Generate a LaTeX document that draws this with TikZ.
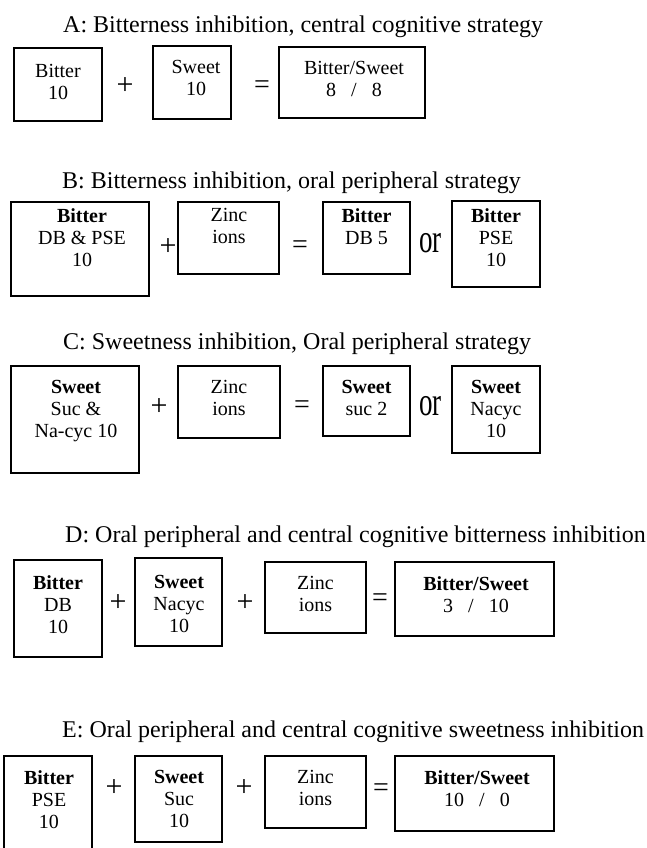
\documentclass[tikz,border=0pt]{standalone}
\usepackage{fontspec}
\setmainfont{Liberation Serif}
\begin{document}
\begin{tikzpicture}[x=1pt,y=-1pt,
  boxst/.style={draw, line width=1.5pt, inner sep=0pt, outer sep=0pt},
  txt/.style={anchor=north, align=center, inner sep=0pt, font=\fontsize{20}{22}\selectfont},
  ttl/.style={anchor=base west, inner sep=0pt, font=\fontsize{24}{28}\selectfont},
  plusst/.style={inner sep=0pt, font=\fontsize{30}{30}\selectfont},
  eqst/.style={inner sep=0pt, font=\fontsize{28}{28}\selectfont},
  orst/.style={anchor=base, inner sep=0pt}]
\useasboundingbox (0,0) rectangle (646,848);
\clip (0,0) rectangle (646,848);
\newcommand{\bigor}{\scalebox{1}[1.5]{\fontsize{27}{27}\selectfont or}}
\newcommand{\gap}{\hspace{15pt}}
% ---------- A ----------
\node[ttl] (ta) at (63,33) {A: Bitterness inhibition, central cognitive strategy};
\node[boxst, minimum width=88pt, minimum height=73pt] (a1) at (58,84.5) {};
\node[boxst, minimum width=78pt, minimum height=73pt] (a2) at (192,82.5) {};
\node[boxst, minimum width=146pt, minimum height=71pt] (a3) at (352,82.5) {};
\node[txt] (a1t) at (58,64) {Bitter\\10};
\node[txt] (a2t) at (196,60) {Sweet\\10};
\node[txt] (a3t) at (354,61) {Bitter/Sweet\\8\gap/\gap8};
\node[plusst] (ap) at (125,86) {+};
\node[eqst] (ae) at (262,87) {=};
% ---------- B ----------
\node[ttl] (tb) at (62,188) {B: Bitterness inhibition, oral peripheral strategy};
\node[boxst, minimum width=138pt, minimum height=94pt] (b1) at (80,249) {};
\node[boxst, minimum width=101pt, minimum height=72pt] (b2) at (228.5,238) {};
\node[boxst, minimum width=87pt, minimum height=72pt] (b3) at (366.5,238) {};
\node[boxst, minimum width=88pt, minimum height=86pt] (b4) at (496,244) {};
\node[txt] (b1t) at (82,208) {\textbf{Bitter}\\DB \& PSE\\10};
\node[txt] (b2t) at (229,208) {Zinc\\ions};
\node[txt] (b3t) at (366.5,208) {\textbf{Bitter}\\DB 5};
\node[txt] (b4t) at (496,208) {\textbf{Bitter}\\PSE\\10};
\node[plusst] (bp) at (168,247) {+};
\node[eqst] (be) at (300,247) {=};
\node[orst] (bo) at (430.5,252.5) {\bigor};
% ---------- C ----------
\node[ttl] (tc) at (63,349) {C: Sweetness inhibition, Oral peripheral strategy};
\node[boxst, minimum width=128pt, minimum height=107pt] (c1) at (75,419.5) {};
\node[boxst, minimum width=102pt, minimum height=72pt] (c2) at (229,402) {};
\node[boxst, minimum width=87pt, minimum height=70pt] (c3) at (366.5,401) {};
\node[boxst, minimum width=88pt, minimum height=87pt] (c4) at (496,409.5) {};
\node[txt] (c1t) at (76,380) {\textbf{Sweet}\\Suc \&\\Na-cyc 10};
\node[txt] (c2t) at (229,380) {Zinc\\ions};
\node[txt] (c3t) at (366.5,380) {\textbf{Sweet}\\suc 2};
\node[txt] (c4t) at (496,380) {\textbf{Sweet}\\Nacyc\\10};
\node[plusst] (cp) at (159,407) {+};
\node[eqst] (ce) at (302,407) {=};
\node[orst] (co) at (430.5,415) {\bigor};
% ---------- D ----------
\node[ttl] (td) at (65,542) {D: Oral peripheral and central cognitive bitterness inhibition};
\node[boxst, minimum width=88pt, minimum height=97pt] (d1) at (58,608.5) {};
\node[boxst, minimum width=87pt, minimum height=88pt] (d2) at (178.5,602) {};
\node[boxst, minimum width=101pt, minimum height=71pt] (d3) at (315.5,597.5) {};
\node[boxst, minimum width=159pt, minimum height=74pt] (d4) at (474.5,599) {};
\node[txt] (d1t) at (58,575) {\textbf{Bitter}\\DB\\10};
\node[txt] (d2t) at (179,575) {\textbf{Sweet}\\Nacyc\\10};
\node[txt] (d3t) at (315.5,576) {Zinc\\ions};
\node[txt] (d4t) at (476,576) {\textbf{Bitter/Sweet}\\3\gap/\gap10};
\node[plusst] (dp1) at (118,603) {+};
\node[plusst] (dp2) at (245,603) {+};
\node[eqst] (de) at (380,600) {=};
% ---------- E ----------
\node[ttl] (te) at (62,737) {E: Oral peripheral and central cognitive sweetness inhibition};
\node[boxst, minimum width=88pt, minimum height=114pt] (e1) at (48,813) {};
\node[boxst, minimum width=87pt, minimum height=86pt] (e2) at (178.5,799) {};
\node[boxst, minimum width=101pt, minimum height=72pt] (e3) at (315.5,792) {};
\node[boxst, minimum width=159pt, minimum height=75pt] (e4) at (474.5,793.5) {};
\node[txt] (e1t) at (49,770) {\textbf{Bitter}\\PSE\\10};
\node[txt] (e2t) at (179,770) {\textbf{Sweet}\\Suc\\10};
\node[txt] (e3t) at (315.5,770) {Zinc\\ions};
\node[txt] (e4t) at (477,770) {\textbf{Bitter/Sweet}\\10\gap/\gap0};
\node[plusst] (ep1) at (114,788) {+};
\node[plusst] (ep2) at (244,788) {+};
\node[eqst] (ee) at (381,790) {=};
\end{tikzpicture}
\end{document}
